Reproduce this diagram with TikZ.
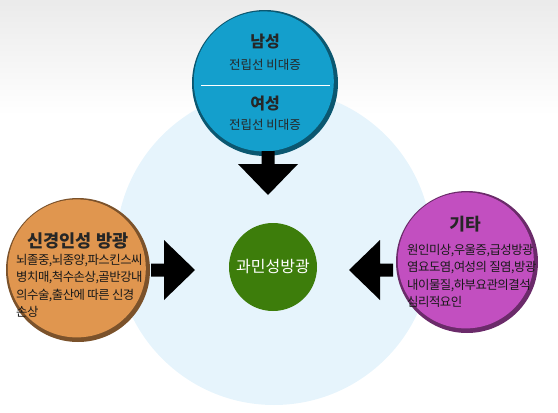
\documentclass[tikz,border=0pt]{standalone}
\usepackage{fontspec}
\setmainfont{Noto Sans CJK KR}
\newfontfamily\tightfont[LetterSpace=-4]{Noto Sans CJK KR}
\usetikzlibrary{positioning}
\definecolor{backblue}{HTML}{E6F4FC}
\definecolor{maleblue}{HTML}{149FCC}
\definecolor{nerveorange}{HTML}{E0964F}
\definecolor{etcpurple}{HTML}{C24FC0}
\definecolor{oabgreen}{HTML}{3D7D0B}
\tikzset{
  ball/.style 2 args={circle,inner sep=0pt,minimum size=#1pt,fill=#2!55!black,
    path picture={\fill[#2] ([xshift=-1.2pt,yshift=1.6pt]path picture bounding box.center) circle[radius=#1pt/2-3pt];}},
  blockarrow/.pic={\fill (0,-6.5) -- (13,-6.5) -- (13,-30) -- (44,0) -- (13,30) -- (13,6.5) -- (0,6.5) -- cycle;},
  balltitle/.style={font=\bfseries\fontsize{17}{19}\selectfont,text=black!85,inner sep=0pt},
  ballbody/.style={font=\tightfont\fontsize{12.4}{17.5}\selectfont,align=left,anchor=north west,inner sep=0pt,text=black!90}
}
\begin{document}
\begin{tikzpicture}[x=1pt,y=-1pt]
\useasboundingbox(0,0)rectangle(558,413);
\shade[top color=black!8,bottom color=white](0,0)rectangle(558,115); %backdrop
\fill[backblue](274,247)circle[radius=158pt];
%top ball
\node[ball={146}{maleblue}] (male) at (265,83){};
\draw[white,line width=.8pt](201,85)--(330,85);
\node[balltitle,font=\bfseries\fontsize{16}{18}\selectfont] (maletitle) at (265,42){남성};
\node[inner sep=0pt,font=\fontsize{12.5}{14}\selectfont,text=black!85] (maletext) at (265,65){전립선 비대증};
\node[balltitle,font=\bfseries\fontsize{16}{18}\selectfont] (femaletitle) at (265,104){여성};
\node[inner sep=0pt,font=\fontsize{12.5}{14}\selectfont,text=black!85] (femaletext) at (265,125){전립선 비대증};
%center ball
\node[circle,fill=oabgreen,minimum size=88pt,inner sep=0pt,text=white,font=\fontsize{16}{18}\selectfont] (oab) at (273,267){과민성방광};
%left ball
\node[ball={144}{nerveorange}] (nerve) at (78,270){};
\node[balltitle,font=\bfseries\fontsize{17.5}{19}\selectfont] (nervetitle) at (78,241){신경인성 방광};
\node[ballbody] (nervetext) at (16,254){뇌졸중,뇌종양,파스킨스씨\\병치매,척수손상,골반강내\\의수술,출산에 따른 신경\\손상};
%right ball
\node[ball={142}{etcpurple}] (etc) at (467,262){};
\node[balltitle] (etctitle) at (465,224){기타};
\node[ballbody] (etctext) at (407,244){원인미상,우울증,급성방광\\염요도염,여성의 질염,방광\\내이물질,하부요관의결석\\심리적요인};
%arrows
\pic[rotate=-90] at (268,151){blockarrow};
\pic at (151,270){blockarrow};
\pic[rotate=180] at (393,270){blockarrow};
\end{tikzpicture}
\end{document}
